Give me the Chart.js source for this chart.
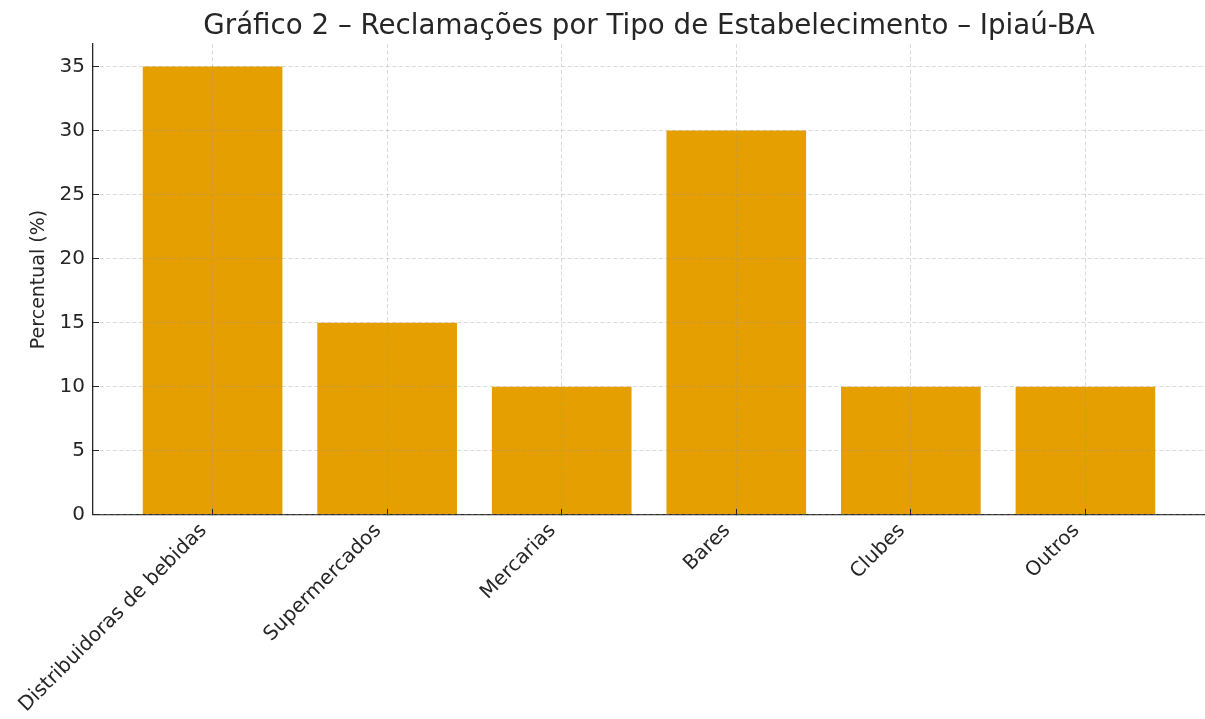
<!DOCTYPE html>
<html>
<head>
<meta charset="utf-8">
<script src="https://cdn.jsdelivr.net/npm/chart.js@4.4.1/dist/chart.umd.min.js"></script>
<style>
  html, body { margin: 0; padding: 0; background: #fff; overflow: hidden; }
  canvas { display: block; }
</style>
</head>
<body>
<canvas id="c" width="1205" height="719"></canvas>
<script>
const categories = ["Distribuidoras de bebidas", "Supermercados", "Mercarias", "Bares", "Clubes", "Outros"];
const percentValues = [35, 15, 10, 30, 10, 10];
const yTickValues = [0, 5, 10, 15, 20, 25, 30, 35];
const chartTitle = "Gráfico 2 – Reclamações por Tipo de Estabelecimento – Ipiaú-BA";
const yAxisTitle = "Percentual (%)";

const FONT = "'DejaVu Sans', sans-serif";
const TEXT = "#262626";
const GRID = "rgba(150,150,150,0.35)";

const points = categories.map((c, i) => ({ x: i, y: percentValues[i] }));

new Chart(document.getElementById("c"), {
  type: "bar",
  data: {
    datasets: [{
      data: points,
      backgroundColor: "#E69F00",
      borderWidth: 0,
      categoryPercentage: 1.0,
      barPercentage: 0.8
    }]
  },
  options: {
    responsive: false,
    animation: false,
    devicePixelRatio: 1,
    layout: { padding: { left: 0, right: 0, top: 0, bottom: -8 } },
    plugins: {
      legend: { display: false },
      tooltip: { enabled: false },
      title: {
        display: true,
        text: chartTitle,
        fullSize: false,
        color: TEXT,
        font: { family: FONT, size: 27.7, weight: "normal" },
        padding: { top: 10, bottom: 0.8 }
      }
    },
    scales: {
      x: {
        type: "linear",
        offset: false,
        min: -0.685,
        max: 5.685,
        afterBuildTicks: (scale) => { scale.ticks = categories.map((_, i) => ({ value: i })); },
        afterFit: (scale) => { scale.paddingRight = 0; },
        ticks: {
          autoSkip: false,
          minRotation: 45,
          maxRotation: 45,
          color: TEXT,
          padding: 10,
          labelOffset: -9,
          font: { family: FONT, size: 20 },
          callback: (v) => categories[v]
        },
        grid: {
          display: true,
          z: 1,
          offset: false,
          color: GRID,
          lineWidth: 1,
          drawTicks: true,
          tickLength: -6,
          tickColor: TEXT,
          tickWidth: 1,
          tickBorderDash: []
        },
        border: { display: true, z: 1, color: TEXT, width: 1.3, dash: [4, 2.5] }
      },
      y: {
        min: 0,
        max: 36.75,
        afterBuildTicks: (scale) => { scale.ticks = yTickValues.map(v => ({ value: v })); },
        afterFit: (scale) => { scale.width = 93; },
        ticks: {
          color: TEXT,
          padding: 14,
          font: { family: FONT, size: 20 }
        },
        title: {
          display: true,
          text: yAxisTitle,
          color: TEXT,
          font: { family: FONT, size: 19 },
          padding: { top: 28, bottom: 0 }
        },
        grid: {
          display: true,
          z: 1,
          color: GRID,
          lineWidth: 1,
          drawTicks: true,
          tickLength: -6,
          tickColor: TEXT,
          tickWidth: 1,
          tickBorderDash: []
        },
        border: { display: true, z: 1, color: TEXT, width: 1.3, dash: [4, 2.5] }
      }
    }
  }
});
</script>
</body>
</html>
